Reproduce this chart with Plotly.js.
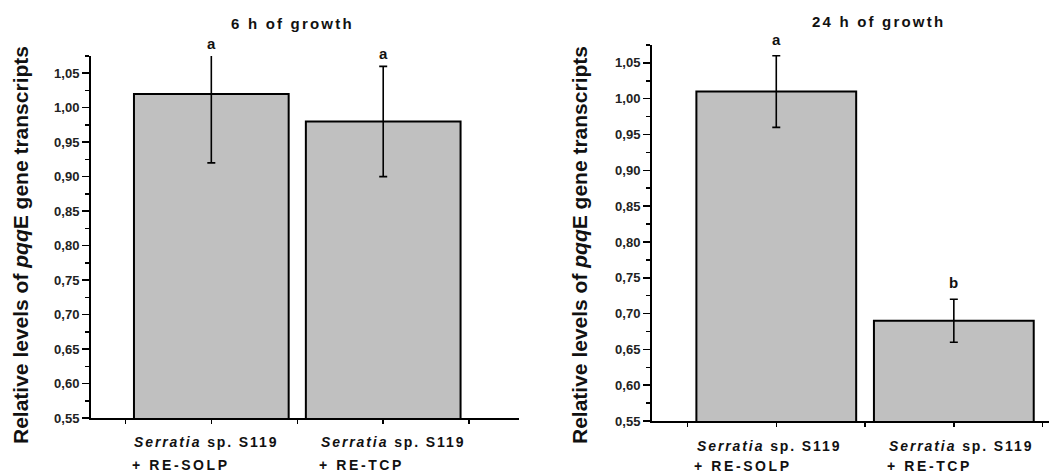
<!DOCTYPE html>
<html>
<head>
<meta charset="utf-8">
<script src="https://cdn.plot.ly/plotly-3.0.1.min.js"></script>
<style>
  html, body { margin: 0; padding: 0; background: #fff; }
  #chart { width: 1049px; height: 475px; }
</style>
</head>
<body>
<div id="chart"></div>
<script>
// ---- data ----
const categories = [0, 1];
const labelLine1 = ["<i>Serratia</i> sp. S119", "<i>Serratia</i> sp. S119"];
const labelLine2 = ["+ RE-SOLP", "+ RE-TCP"];
const panelTitles = ["6 h of growth", "24 h of growth"];
const values6h = [1.02, 0.98];
const errors6h = [0.10, 0.08];
const letters6h = ["a", "a"];
const values24h = [1.01, 0.69];
const errors24h = [0.05, 0.03];
const letters24h = ["a", "b"];
const yTitle = "Relative levels of <i>pqq</i>E gene transcripts";
const yMin = 0.55, yMax = 1.075;

const FONT = "Liberation Sans, Arial, sans-serif";
const W = 1049, H = 475;

function spaced(txt, px) {
  return '<span style="letter-spacing:' + px + 'px">' + txt + '</span>';
}

function barTrace(vals, errs, xa, ya) {
  return {
    type: "bar", x: categories, y: vals, width: 0.9,
    xaxis: xa, yaxis: ya,
    marker: { color: "#c0c0c0", line: { color: "#000", width: 2 } },
    error_y: { type: "data", array: errs, visible: true, color: "#000", thickness: 1.6, width: 4 },
    hoverinfo: "skip", showlegend: false
  };
}

const data = [
  barTrace(values6h, errors6h, "x", "y"),
  barTrace(values24h, errors24h, "x2", "y2")
];

function xAxis(domain, range, anchor) {
  return {
    domain: domain, range: range, anchor: anchor,
    tickvals: categories, ticktext: ["", ""], showticklabels: false,
    ticks: "outside", ticklen: 5, tickwidth: 1.5, tickcolor: "#000",
    minor: { ticks: "outside", tick0: 0, dtick: 0.5, ticklen: 4, tickwidth: 1.5, tickcolor: "#000" },
    showline: true, linecolor: "#000", linewidth: 2,
    showgrid: false, zeroline: false, fixedrange: true
  };
}
function yAxis(domain, anchor) {
  return {
    domain: domain, range: [yMin, yMax], anchor: anchor,
    tick0: 0.55, dtick: 0.05, tickformat: ".2f",
    ticks: "outside", ticklen: 7, tickwidth: 1.5, tickcolor: "#000",
    minor: { ticks: "outside", dtick: 0.025, tick0: 0.55, ticklen: 4, tickwidth: 1.5, tickcolor: "#000" },
    tickfont: { family: FONT, size: 13, color: "#222", weight: 700 },
    showline: true, linecolor: "#000", linewidth: 2,
    showgrid: false, zeroline: false, fixedrange: true
  };
}

const annotations = [];
const labelOffsets = [-0.46, -0.375];
function addPanel(xa, ya, vals, errs, letters, title, titleX, titleY, yTitleX, yTitleY, l1y, l2y, letterShift) {
  categories.forEach((c, i) => {
    annotations.push({
      xref: xa, yref: ya, x: c, y: Math.min(vals[i] + errs[i], yMax),
      yanchor: "bottom", yshift: letterShift, showarrow: false, text: letters[i],
      font: { family: FONT, size: 15, color: "#111", weight: "bold" }
    });
    annotations.push({
      xref: xa, yref: "paper", x: c + labelOffsets[i], y: l1y, xanchor: "left", yanchor: "middle",
      showarrow: false, text: spaced(labelLine1[i], 1.9),
      font: { family: FONT, size: 14, color: "#111", weight: "bold" }
    });
    annotations.push({
      xref: xa, yref: "paper", x: c + labelOffsets[i] - 0.012, y: l2y, xanchor: "left", yanchor: "middle",
      showarrow: false, text: spaced(labelLine2[i], 2.6),
      font: { family: FONT, size: 14, color: "#111", weight: "bold" }
    });
  });
  annotations.push({
    xref: "paper", yref: "paper", x: titleX, y: titleY, xanchor: "center", yanchor: "middle",
    showarrow: false, text: spaced(title, 2.2),
    font: { family: FONT, size: 15, color: "#111", weight: "bold" }
  });
  annotations.push({
    xref: "paper", yref: "paper", x: yTitleX, y: yTitleY, xanchor: "center", yanchor: "middle",
    showarrow: false, text: yTitle, textangle: -90,
    font: { family: FONT, size: 21, color: "#111", weight: "bold" }
  });
}

addPanel("x", "y", values6h, errors6h, letters6h, panelTitles[0], 292/W, 1 - 24/H, 20/W, 1 - 245/H, 1 - 442/H, 1 - 465/H, 2);
addPanel("x2", "y2", values24h, errors24h, letters24h, panelTitles[1], 879/W, 1 - 22/H, 579/W, 1 - 245/H, 1 - 446/H, 1 - 466/H, 6);

const layout = {
  width: W, height: H,
  margin: { l: 0, r: 0, t: 0, b: 0 },
  paper_bgcolor: "#fff", plot_bgcolor: "#fff",
  separators: ",.",
  showlegend: false,
  font: { family: FONT, color: "#111" },
  xaxis: xAxis([91/W, 519/W], [-0.7, 1.79], "y"),
  yaxis: yAxis([1 - 418/H, 1 - 56/H], "x"),
  xaxis2: xAxis([652/W, 1], [-0.7, 1.536], "y2"),
  yaxis2: yAxis([1 - 421/H, 1 - 45/H], "x2"),
  annotations: annotations
};

Plotly.newPlot("chart", data, layout, { displayModeBar: false, staticPlot: true });
</script>
</body>
</html>
